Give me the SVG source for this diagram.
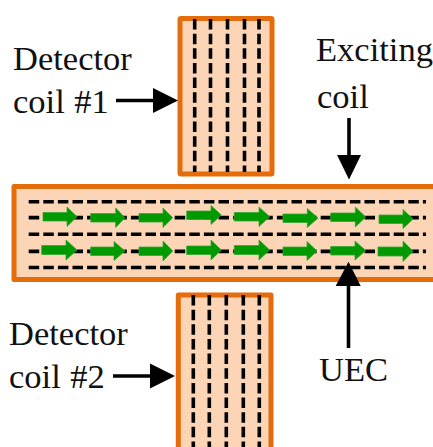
<svg xmlns="http://www.w3.org/2000/svg" width="433" height="447" viewBox="0 0 433 447">
<style>
.body{fill:#fbd5b5;stroke:#e46c0a;stroke-width:5;stroke-linejoin:round}
.vd{stroke:#000;stroke-width:3.6;stroke-dasharray:10.5 4.15;fill:none}
.hd{stroke:#000;stroke-width:3.6;stroke-dasharray:10.5 4.1;fill:none}
.g{fill:#009900;stroke:#33a833;stroke-width:.8}
.l{stroke:#000;stroke-width:3.6;fill:none}
.h{fill:#000}
text{font-family:"Liberation Serif","Times New Roman",serif;font-size:34.5px;fill:#111;word-spacing:1px}
</style>
<rect width="433" height="447" fill="#fff"/>
<g id="detector-coil-1">
<rect class="body" x="180" y="18.5" width="92" height="155.5" rx="1"/>
<path class="vd" d="M194.7 19V172M210.5 19V172M227.5 19V172M244.5 19V172M259 19V172"/>
</g>
<g id="detector-coil-2">
<path class="body" d="M178.3 450V295H271V450"/>
<path class="vd" d="M193.3 295V447M209.3 295V447M226.3 295V447M243.3 295V447M259.3 295V447"/>
</g>
<g id="uec">
<path class="body" d="M440 186.5H14V279.5H440Z"/>
<path class="hd" d="M28.7 201.7H426M28.7 217.6H426M28.7 234.3H426M28.7 251.4H426M28.7 267.5H426"/>
<g id="flow-row-1">
<polygon class="g" points="43,212.5 67,212.5 67,207 77,216.7 67,226.4 67,221 43,221"/>
<polygon class="g" points="90.7,213.5 115.7,213.5 115.7,208 125,217.7 115.7,227.4 115.7,222 90.7,222"/>
<polygon class="g" points="139,213.5 163,213.5 163,208 172.7,217.7 163,227.4 163,222 139,222"/>
<polygon class="g" points="186.7,211 211,211 211,205.5 221.3,215 211,224.5 211,219.5 186.7,219.5"/>
<polygon class="g" points="234.3,212.5 259,212.5 259,207 269.7,216.7 259,226.4 259,221 234.3,221"/>
<polygon class="g" points="283,214 307.3,214 307.3,208.5 318,218 307.3,227.5 307.3,222.5 283,222.5"/>
<polygon class="g" points="330.7,213 355.3,213 355.3,207 365.7,217 355.3,227 355.3,221.5 330.7,221.5"/>
<polygon class="g" points="379,215 403,215 403,209.5 413,219 403,228.5 403,223.5 379,223.5"/>
</g>
<g id="flow-row-2">
<polygon class="g" points="41.7,245.5 66,245.5 66,240 77,250 66,260 66,254.5 41.7,254.5"/>
<polygon class="g" points="90.7,247 114,247 114,241.5 125,251 114,260.5 114,255.5 90.7,255.5"/>
<polygon class="g" points="139,247 163,247 163,241 172.7,251 163,261 163,255.5 139,255.5"/>
<polygon class="g" points="186.7,246 211,246 211,240 221.3,250 211,260 211,254.5 186.7,254.5"/>
<polygon class="g" points="234.3,245.5 259,245.5 259,240 269.7,250 259,260 259,254.5 234.3,254.5"/>
<polygon class="g" points="283,247 307,247 307,241.5 317,251 307,260.5 307,255.5 283,255.5"/>
<polygon class="g" points="330.7,246.5 355,246.5 355,241 365.7,250.5 355,260 355,255 330.7,255"/>
<polygon class="g" points="378,247 403,247 403,241 413,251.3 403,261.5 403,256 378,256"/>
</g>
</g>
<g id="connectors">
<path class="l" d="M116 100.5H156"/><polygon class="h" points="153,88 178,100.5 153,113"/>
<path class="l" d="M113 376H152"/><polygon class="h" points="150,363.5 175,376 150,388.5"/>
<path class="l" d="M349 118V157"/><polygon class="h" points="337,155 361,155 349,179.5"/>
<path class="l" d="M348.5 348V284"/><polygon class="h" points="335.7,286 360.7,286 348.5,261.7"/>
</g>
<g id="labels">
<text x="13" y="70">Detector</text>
<text x="13" y="113">coil #1</text>
<text x="316" y="60.5">Exciting</text>
<text x="317" y="108">coil</text>
<text x="9" y="345">Detector</text>
<text x="9" y="388">coil #2</text>
<text x="319" y="381">UEC</text>
</g>
</svg>
